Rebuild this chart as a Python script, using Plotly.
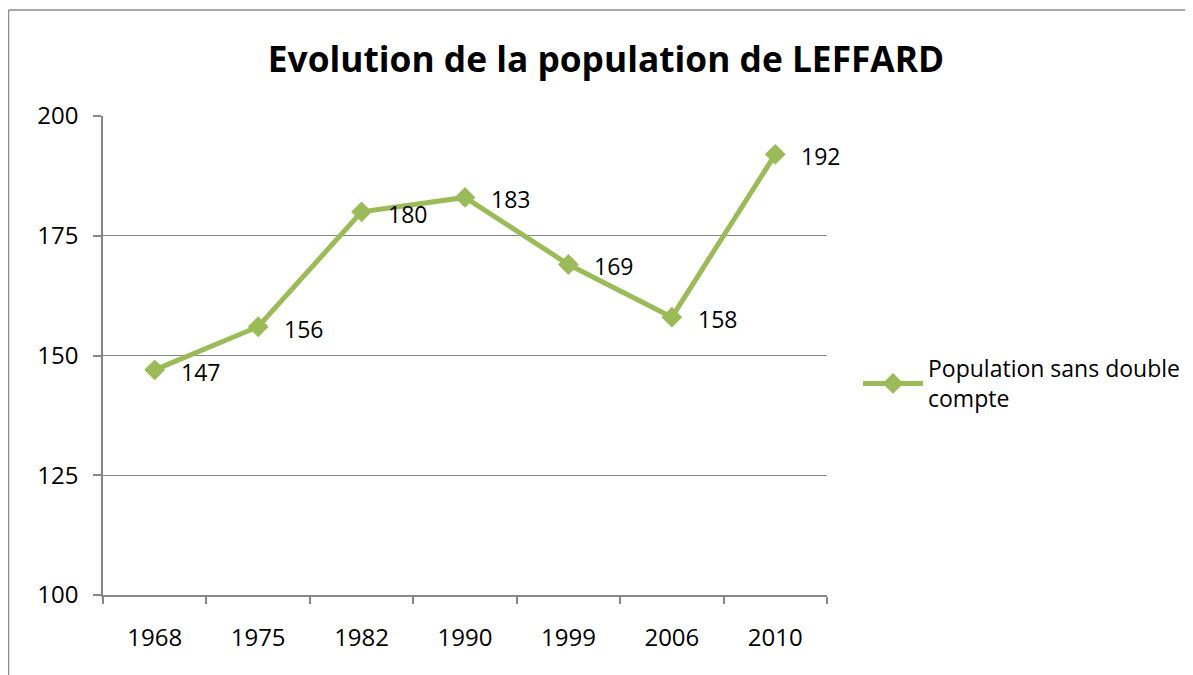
import plotly.graph_objects as go

# Data
years = ["1968", "1975", "1982", "1990", "1999", "2006", "2010"]
population = [147, 156, 180, 183, 169, 158, 192]
y_ticks = [100, 125, 150, 175, 200]

GREEN = "#9BBB59"
GRID = "#878787"
FONT = "Open Sans"

fig = go.Figure()
fig.add_trace(go.Scatter(
    x=years, y=population, mode="lines+markers",
    name="Population sans double<br>compte",
    line=dict(color=GREEN, width=5),
    marker=dict(symbol="diamond", size=16, color=GREEN),
))

# data labels to the right of each point (x given as category index)
for i, val in enumerate(population):
    fig.add_annotation(x=i, y=val, text=str(val), showarrow=False,
                       xanchor="left", yanchor="middle", xshift=24, yshift=-2,
                       font=dict(family=FONT, size=23, color="black"))

# page is drawn with an 8px body offset, so plot coords are shifted by -8
OFF = 8
L, T, W, H = 103 - OFF, 116 - OFF, 724, 479
px = lambda v: (v - OFF - L) / W
py = lambda v: (T + H - (v - OFF)) / H

# chart border (left and top only, as cropped in the original)
fig.add_shape(type="line", xref="paper", yref="paper",
              x0=px(8.5), x1=px(1300), y0=py(10), y1=py(10),
              line=dict(color="#8a8a8a", width=1.5))
fig.add_shape(type="line", xref="paper", yref="paper",
              x0=px(8.5), x1=px(8.5), y0=py(10), y1=py(800),
              line=dict(color="#8a8a8a", width=1.5))

fig.update_layout(
    width=1193, height=675,
    margin=dict(l=L, r=1193 - L - W, t=T, b=675 - T - H),
    paper_bgcolor="white", plot_bgcolor="white",
    font=dict(family=FONT, size=24, color="black"),
    title=dict(text="<b>Evolution de la population de LEFFARD</b>",
               x=(606 - OFF) / 1193, xanchor="center",
               y=1 - (60 - OFF) / 675, yanchor="middle",
               font=dict(family=FONT, size=35.3, color="black")),
    showlegend=True,
    legend=dict(x=px(858), y=py(347), xanchor="left", yanchor="top",
                font=dict(family=FONT, size=23, color="black"),
                bgcolor="rgba(0,0,0,0)", itemwidth=60, tracegroupgap=0),
    xaxis=dict(type="category", showgrid=False, showline=True, linecolor=GRID,
               linewidth=1.5, ticks="outside", tickson="boundaries", ticklen=7,
               tickcolor=GRID, tickwidth=1.5, ticklabelstandoff=20,
               range=[-0.5, len(years) - 0.5]),
    yaxis=dict(range=[100, 200], tickvals=y_ticks, showgrid=True, gridcolor=GRID,
               gridwidth=1, showline=True, linecolor=GRID, linewidth=1.5,
               ticks="outside", ticklen=8, tickcolor=GRID, tickwidth=1.5,
               zeroline=False, ticklabelstandoff=10),
)

fig.write_html("out.html")
